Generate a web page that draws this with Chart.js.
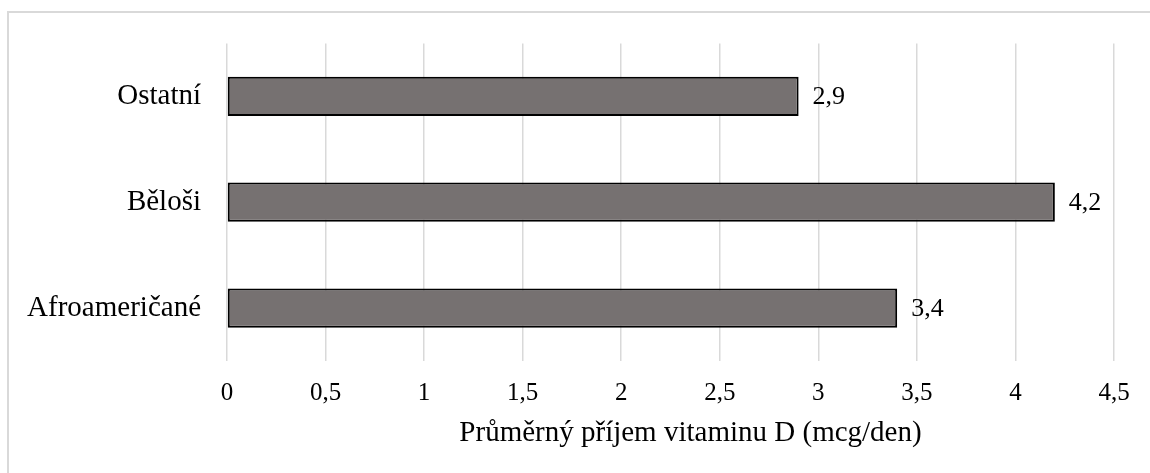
<!DOCTYPE html>
<html>
<head>
<meta charset="utf-8">
<script src="https://cdn.jsdelivr.net/npm/chart.js@4.4.1/dist/chart.umd.min.js"></script>
<style>
  html, body { margin: 0; padding: 0; background: #ffffff; overflow: hidden; }
  #wrap { position: relative; width: 1150px; height: 473px; }
  #frame { position: absolute; left: 7px; top: 11px; width: 1200px; height: 600px; border: 2px solid #d9d9d9; box-sizing: border-box; pointer-events: none; }
  canvas { position: absolute; left: 0; top: 0; }
</style>
</head>
<body>
<div id="wrap">
  <canvas id="c" width="1150" height="473"></canvas>
  <div id="frame"></div>
</div>
<script>
const categories = ['Ostatní', 'Běloši', 'Afroameričané'];
const intakeValues = [2.9, 4.2, 3.4];
const axisTitle = 'Průměrný příjem vitaminu D (mcg/den)';
const xMin = 0, xMax = 4.5, xStep = 0.5;

const FONT = "'Liberation Serif', 'Times New Roman', serif";
const fmt = v => String(Math.round(v * 10) / 10).replace('.', ',');

const valueLabels = {
  id: 'valueLabels',
  afterDatasetsDraw(chart) {
    const ctx = chart.ctx;
    const meta = chart.getDatasetMeta(0);
    ctx.save();
    ctx.font = '26px ' + FONT;
    ctx.fillStyle = '#000000';
    ctx.textAlign = 'left';
    ctx.textBaseline = 'middle';
    meta.data.forEach((bar, i) => {
      ctx.fillText(fmt(intakeValues[i]), bar.x + 14, bar.y + 1);
    });
    ctx.restore();
  }
};

const axisTitlePlugin = {
  id: 'axisTitlePlugin',
  afterDraw(chart) {
    const ctx = chart.ctx;
    const a = chart.chartArea;
    ctx.save();
    ctx.font = '29px ' + FONT;
    ctx.fillStyle = '#000000';
    ctx.textAlign = 'center';
    ctx.textBaseline = 'middle';
    ctx.fillText(axisTitle, (a.left + a.right) / 2 + 20, a.bottom + 72);
    ctx.restore();
  }
};

new Chart(document.getElementById('c'), {
  type: 'bar',
  data: {
    labels: categories,
    datasets: [{
      data: intakeValues,
      backgroundColor: '#767171',
      borderColor: '#000000',
      borderWidth: 2,
      borderSkipped: false,
      barPercentage: 0.37,
      categoryPercentage: 1.0
    }]
  },
  options: {
    indexAxis: 'y',
    responsive: false,
    animation: false,
    events: [],
    layout: { padding: { top: 42, right: 36, left: 0, bottom: 0 } },
    plugins: { legend: { display: false }, tooltip: { enabled: false } },
    scales: {
      x: {
        min: xMin, max: xMax,
        afterFit(scale) { scale.height = 112; },
        ticks: {
          stepSize: xStep,
          padding: 17,
          color: '#000000',
          font: { family: FONT, size: 25 },
          callback: v => fmt(v)
        },
        grid: { color: '#d9d9d9', lineWidth: 1.5, drawTicks: false },
        border: { display: false }
      },
      y: {
        afterFit(scale) { scale.width = 227; },
        ticks: {
          padding: 26,
          color: '#000000',
          font: { family: FONT, size: 29 }
        },
        grid: { display: false, drawTicks: false },
        border: { display: false }
      }
    }
  },
  plugins: [valueLabels, axisTitlePlugin]
});
</script>
</body>
</html>
